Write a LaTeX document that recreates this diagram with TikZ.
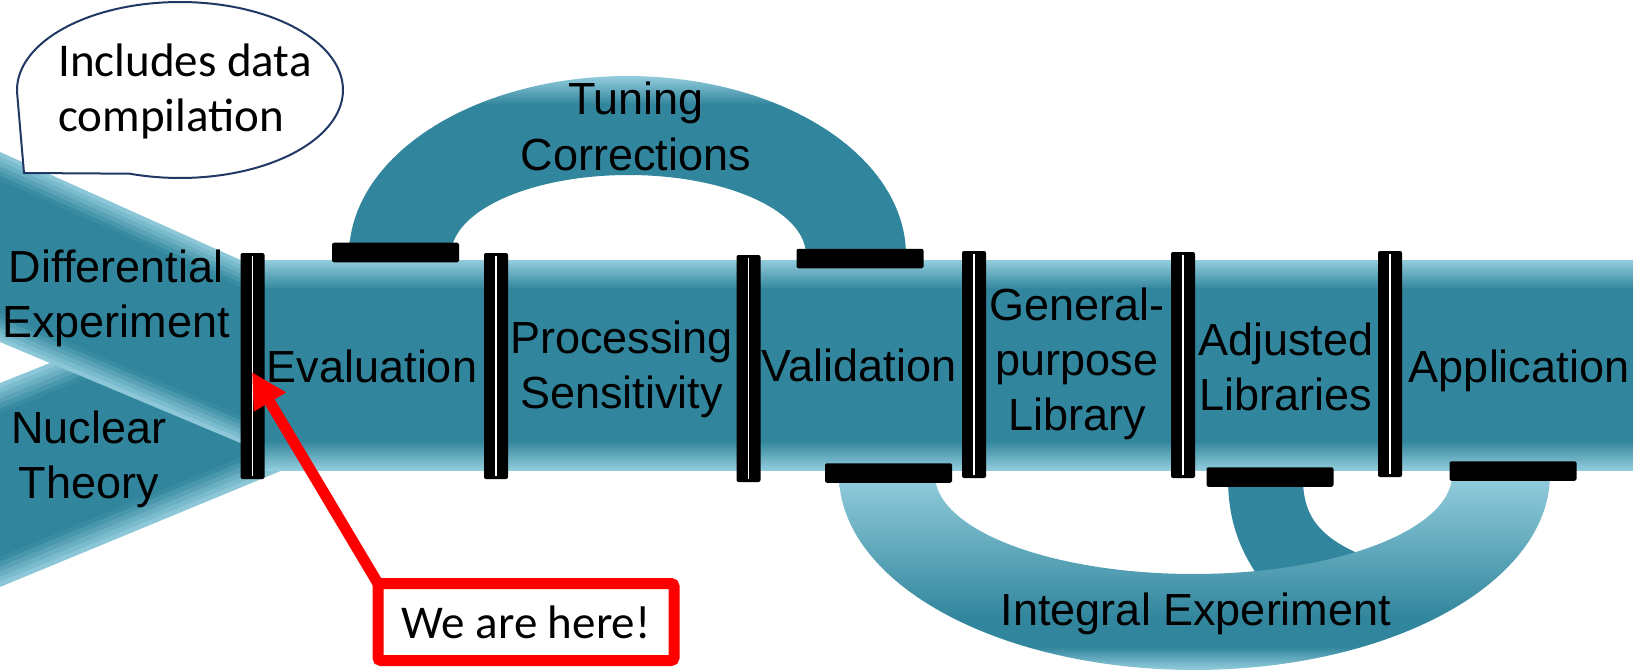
\documentclass[tikz,border=0pt]{standalone}
\usepackage{fontspec}
\setmainfont{Liberation Sans}
\newfontfamily\calibfont{Carlito}
\usetikzlibrary{arrows.meta}
\definecolor{dk}{HTML}{31859C}
\definecolor{lt}{HTML}{93CDDD}
\definecolor{navy}{HTML}{203864}
\pgfdeclareverticalshading{pipeshade}{100bp}{color(0bp)=(lt); color(25bp)=(lt); color(32bp)=(dk); color(68bp)=(dk); color(75bp)=(lt); color(100bp)=(lt)}
\pgfdeclareverticalshading{topshade}{100bp}{color(0bp)=(dk); color(67bp)=(dk); color(75bp)=(lt); color(100bp)=(lt)}
\pgfdeclareverticalshading{botshade}{100bp}{color(0bp)=(lt); color(25bp)=(lt); color(31bp)=(dk); color(38bp)=(dk); color(75bp)=(lt); color(100bp)=(lt)}
\tikzset{
  lbl/.style={inner sep=0pt, font=\fontsize{45}{55}\selectfont, align=center, anchor=base},
  vbar/.style={fill=black, rounded corners=2pt, minimum width=24pt, inner sep=0pt, outer sep=0pt},
  padbox/.style={fill=black, rounded corners=2pt, minimum width=127pt, minimum height=19.5pt, inner sep=0pt, outer sep=0pt},
  slit/.style={white, line width=1.6pt},
  callfont/.style={font=\calibfont\fontsize{47}{55}\selectfont}
}
\begin{document}
\begin{tikzpicture}[x=1pt,y=-1pt]
\useasboundingbox (0,0) rectangle (1633,671);
% lower wedge (Nuclear Theory)
\foreach \i in {0,...,39}{
  \pgfmathsetmacro\ta{\i/40}
  \pgfmathsetmacro\tb{min(1,(\i+1.2)/40)}
  \pgfmathsetmacro\tm{(\i+0.5)/40}
  \pgfmathsetmacro\pc{100*min(1,\tm/0.15,(1-\tm)/0.15)}
  \fill[dk!\pc!lt] (0,{383+204*\ta}) -- (290,{267+200.1*\ta}) -- (290,{267+200.1*\tb}) -- (0,{383+204*\tb}) -- cycle;
}
% upper wedge (Differential Experiment)
\foreach \i in {0,...,39}{
  \pgfmathsetmacro\ta{\i/40}
  \pgfmathsetmacro\tb{min(1,(\i+1.2)/40)}
  \pgfmathsetmacro\tm{(\i+0.5)/40}
  \pgfmathsetmacro\pc{100*min(1,\tm/0.15,(1-\tm)/0.15)}
  \fill[dk!\pc!lt] (0,{152+190*\ta}) -- (255,{266.5+182.6*\ta}) -- (255,{266.5+182.6*\tb}) -- (0,{152+190*\tb}) -- cycle;
}
% main pipe
\shade[shading=pipeshade] (250,260) rectangle (1633,470);
% tuning arch
\shade[shading=topshade] plot[domain=180:360,samples=90] ({627.5+278.5*cos(\x)},{255+179*sin(\x)})
  -- plot[domain=360:180,samples=90] ({628.5+177.5*cos(\x)},{255+80*sin(\x)}) -- cycle;
% middle strand of the integral loop
\fill[dk] (1228,482) .. controls (1229,530) and (1245,560) .. (1268,590) -- (1375,560)
  .. controls (1318,540) and (1304,515) .. (1303,482) -- cycle;
% integral arch
\shade[shading=botshade] plot[domain=180:0,samples=90] ({1194.5+355.5*cos(\x)},{475+195*sin(\x)})
  -- plot[domain=0:180,samples=90] ({1193.5+258.5*cos(\x)},{475+99*sin(\x)}) -- cycle;
% pads
\node[padbox] (p1) at (395.5,252.5) {};
\node[padbox] (p2) at (860,258.5) {};
\node[padbox] (p3) at (888.5,473) {};
\node[padbox] (p4) at (1270,477) {};
\node[padbox] (p5) at (1513,471) {};
% bars
\node[vbar, minimum height=226pt] (b1) at (252.5,366) {};
\node[vbar, minimum height=226pt] (b2) at (496,366) {};
\node[vbar, minimum height=227pt] (b3) at (748.5,368.5) {};
\node[vbar, minimum height=227pt] (b4) at (974,364.5) {};
\node[vbar, minimum height=226pt] (b5) at (1183,365) {};
\node[vbar, minimum height=226pt] (b6) at (1390,364) {};
\foreach \b in {b1,b2,b3,b4,b5,b6}{
  \draw[slit] ([yshift=-3pt]\b.north) -- ([yshift=3pt]\b.south);
}
% labels (base anchor = baseline of the last line)
\node[lbl] (diff) at (116,337) {Differential\\Experiment};
\node[lbl] (nuc) at (89,498) {Nuclear\\Theory};
\node[lbl] (eval) at (372,382) {Evaluation};
\node[lbl] (proc) at (621.5,408) {Processing\\Sensitivity};
\node[lbl] (valid) at (859,381) {Validation};
\node[lbl] (gen) at (1077,430) {General-\\purpose\\Library};
\node[lbl] (adj) at (1286,410) {Adjusted\\Libraries};
\node[lbl] (app) at (1519,382) {Application};
\node[lbl, font=\fontsize{45}{56}\selectfont] (tune) at (636,171) {Tuning\\Corrections};
\node[lbl] (integ) at (1196,625) {Integral Experiment};
% callout bubble
\filldraw[fill=white, draw=navy, line width=2pt] plot[domain=176:468,samples=120] ({180+163*cos(\x)},{90+88*sin(\x)}) -- (24,173) -- cycle;
\node[callfont, inner sep=0pt, align=left, anchor=base west] (note) at (58,132) {Includes data\\compilation};
% we are here
\node[callfont, draw=red, line width=11pt, rounded corners=3pt, minimum width=296pt, minimum height=77pt, inner sep=0pt, outer sep=0pt, fill=white] (here) at (526,622) {We are here!};
\coordinate (tip) at (252,372);
\draw[red, line width=11pt, -{Triangle[length=35pt,width=35pt]}] (here.north west) -- (tip);
\end{tikzpicture}
\end{document}
